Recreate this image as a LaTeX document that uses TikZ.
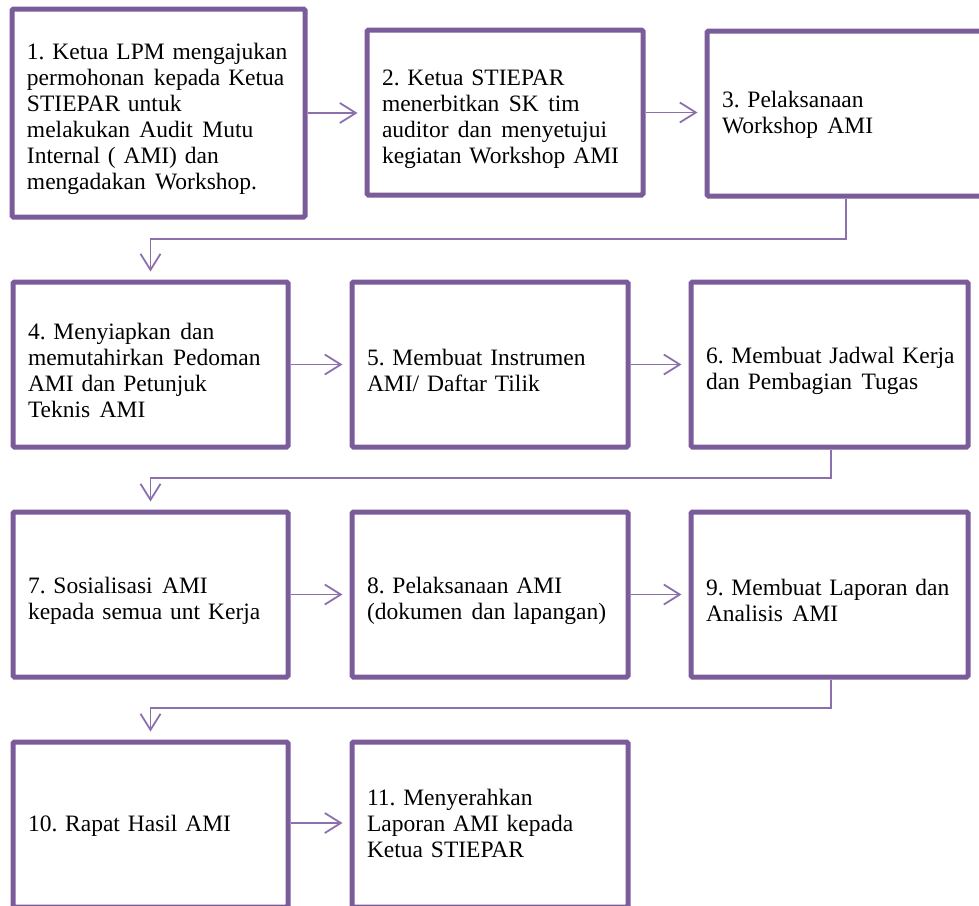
\documentclass[tikz,border=0pt]{standalone}
\usepackage{fontspec}
\setmainfont{Liberation Serif}
\usetikzlibrary{arrows.meta,calc}
\definecolor{boxpurple}{HTML}{7A5C9B}
\definecolor{linepurple}{HTML}{8C70AE}
\newcommand\wsp{\hspace{0.4em}}
\newcommand\ml[1]{\mbox{#1}}
\tikzset{
  stepbox/.style={draw=boxpurple, line width=5pt, rounded corners=1.5pt, fill=white,
    minimum height=165pt, inner xsep=15pt, inner ysep=0pt, align=left,
    font=\fontsize{23.5}{26}\selectfont\frenchspacing,
    execute at begin node={\rule{0pt}{29pt}}},
  raisetext/.style={execute at end node={\rule[-15pt]{0pt}{0pt}}},
  conn/.style={draw=linepurple, line width=1.8pt,
    -{Straight Barb[length=16pt,width=20pt,line width=1.8pt]}},
}
\begin{document}
\begin{tikzpicture}[x=1pt,y=-1pt]
\useasboundingbox (0,0) rectangle (979,905);
% row 1
\node[stepbox, text width=263pt, minimum height=208pt] (b1) at (158.5,113)
  {\ml{1. Ketua LPM mengajukan}\\\ml{permohonan\wsp kepada Ketua}\\\ml{STIEPAR untuk}\\\ml{melakukan\wsp Audit\wsp Mutu}\\\ml{Internal ( AMI) dan}\\\ml{mengadakan\wsp Workshop.}};
\node[stepbox, text width=246pt] (b2) at (505,112.5)
  {\ml{2. Ketua STIEPAR}\\\ml{menerbitkan\wsp SK\wsp tim}\\\ml{auditor\wsp dan\wsp menyetujui}\\\ml{kegiatan Workshop AMI}};
\node[stepbox, raisetext, text width=260pt] (b3) at (852,113.5)
  {\ml{3. Pelaksanaan}\\\ml{Workshop\wsp AMI}};
% row 2
\node[stepbox, text width=245pt] (b4) at (150.5,364.5)
  {\ml{4. Menyiapkan\wsp dan}\\\ml{memutahirkan\wsp Pedoman}\\\ml{AMI dan Petunjuk}\\\ml{Teknis\wsp AMI}};
\node[stepbox, text width=246pt] (b5) at (490,364.5)
  {\ml{5. Membuat Instrumen}\\\ml{AMI/ Daftar Tilik}};
\node[stepbox, text width=247pt] (b6) at (829.5,364.5)
  {\ml{6. Membuat Jadwal Kerja}\\\ml{dan Pembagian\wsp Tugas}};
% row 3
\node[stepbox, text width=245pt] (b7) at (150.5,594.5)
  {\ml{7. Sosialisasi\wsp AMI}\\\ml{kepada semua unt Kerja}};
\node[stepbox, text width=246pt] (b8) at (490,594.5)
  {\ml{8. Pelaksanaan AMI}\\\ml{(dokumen\wsp dan lapangan)}};
\node[stepbox, text width=247pt] (b9) at (829.5,594.5)
  {\ml{9. Membuat Laporan dan}\\\ml{Analisis\wsp AMI}};
% row 4
\node[stepbox, raisetext, text width=245pt] (b10) at (150.5,824.5)
  {\ml{10. Rapat Hasil AMI}};
\node[stepbox, raisetext, text width=246pt] (b11) at (490,824.5)
  {\ml{11. Menyerahkan}\\\ml{Laporan AMI kepada}\\\ml{Ketua STIEPAR}};
% horizontal arrows
\draw[conn, shorten >=7pt] (b1.east |- 0,113) -- (b2.west |- 0,113);
\draw[conn, shorten >=7pt] (b2.east) -- (b3.west |- b2.east);
\draw[conn, shorten >=7pt] (b4.east) -- (b5.west);
\draw[conn, shorten >=7pt] (b5.east) -- (b6.west);
\draw[conn, shorten >=7pt] (b7.east) -- (b8.west);
\draw[conn, shorten >=7pt] (b8.east) -- (b9.west);
\draw[conn, shorten >=7pt] (b10.east |- 0,823) -- (b11.west |- 0,823);
% row connectors
\coordinate (c1) at (846,239);
\coordinate (c2) at (831,478);
\coordinate (c3) at (831,708);
\draw[conn, shorten >=8pt] (b3.south -| c1) -- (c1) -| (b4.north);
\draw[conn, shorten >=8pt] (b6.south -| c2) -- (c2) -| (b7.north);
\draw[conn, shorten >=8pt] (b9.south -| c3) -- (c3) -| (b10.north);
\end{tikzpicture}
\end{document}
